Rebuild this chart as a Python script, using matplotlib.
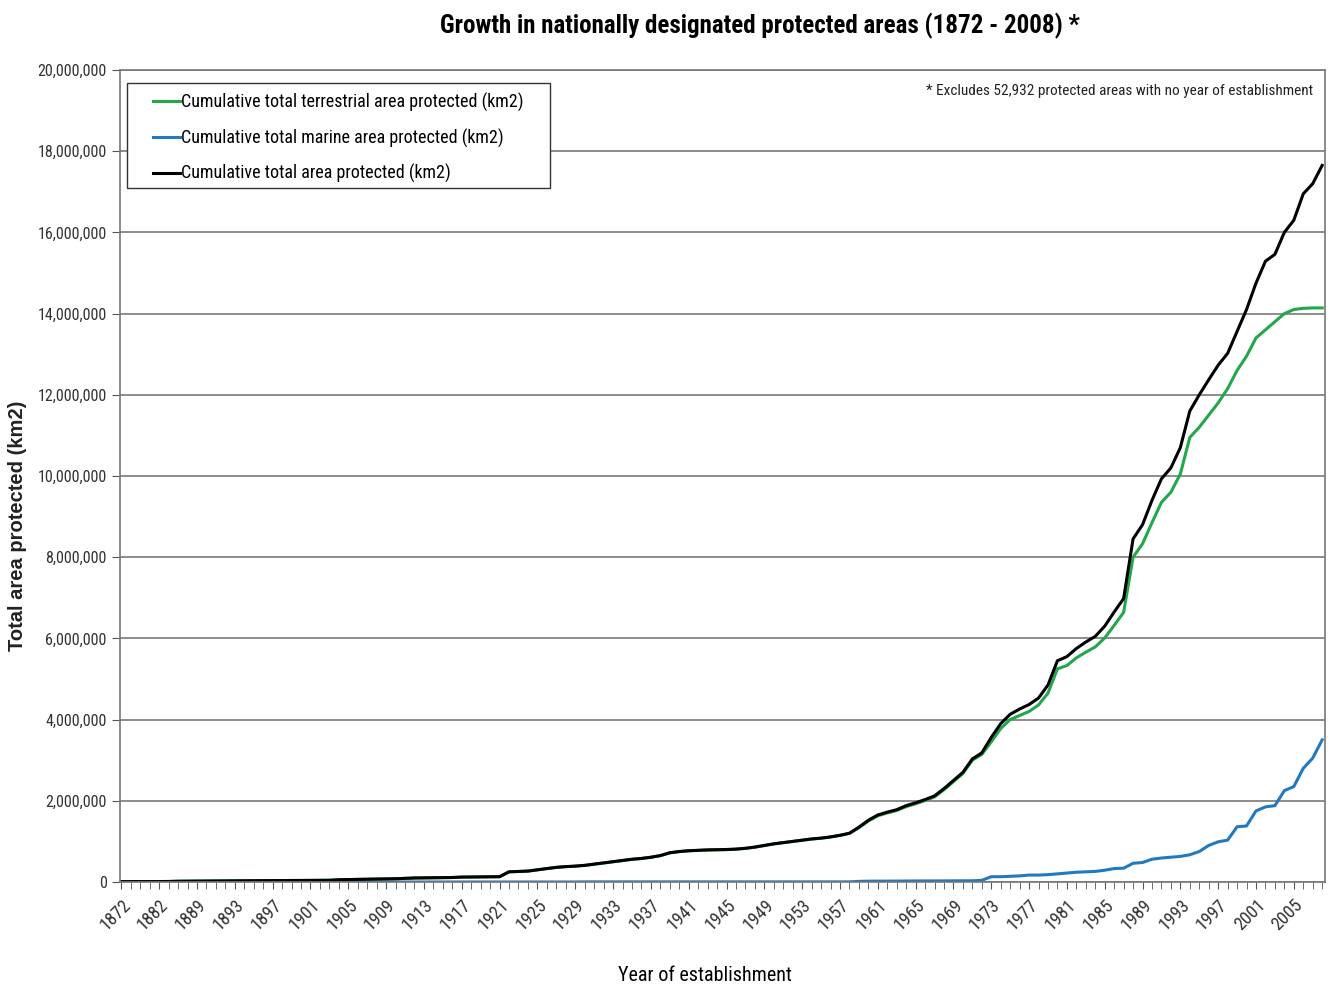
import matplotlib
matplotlib.use('Agg')
import matplotlib.pyplot as plt
from matplotlib import font_manager as fm
from matplotlib.patches import Rectangle
from matplotlib.ticker import FuncFormatter, FixedLocator

# look for a narrow face (the original uses Arial Narrow)
narrow = None
names = {(f.name, f.stretch) for f in fm.fontManager.ttflist}
for nm, st in [('Liberation Sans Narrow', None), ('Roboto Condensed', None),
               ('DejaVu Sans', 'condensed'), ('Open Sans Condensed', None)]:
    if any(n == nm and (st is None or s == st) for n, s in names):
        narrow = (nm, st)
        break
if narrow is None:
    narrow = ('Liberation Sans', None)
plt.rcParams['font.family'] = [narrow[0], 'DejaVu Sans']
if narrow[1]:
    plt.rcParams['font.stretch'] = narrow[1]

# categories (years that have at least one protected area established)
years = [1872, 1875, 1879, 1880, 1882, 1884, 1885, 1887] + list(range(1889, 2009))

# cumulative values, millions of km2
total = [
    0.009, 0.009, 0.010, 0.010, 0.011, 0.012, 0.018, 0.020,            # 1872-1887
    0.022, 0.025, 0.026, 0.027, 0.030, 0.030, 0.031, 0.032, 0.033, 0.034,  # 1889-1898
    0.035, 0.037, 0.038, 0.040, 0.042, 0.055, 0.060, 0.065, 0.068, 0.072,  # 1899-1908
    0.075, 0.080, 0.090, 0.098, 0.100, 0.104, 0.107, 0.110, 0.120, 0.122,  # 1909-1918
    0.124, 0.126, 0.130, 0.250, 0.258, 0.268, 0.300, 0.330, 0.360, 0.378,  # 1919-1928
    0.390, 0.410, 0.440, 0.470, 0.500, 0.530, 0.560, 0.580, 0.610, 0.650,  # 1929-1938
    0.720, 0.750, 0.770, 0.780, 0.790, 0.795, 0.800, 0.810, 0.830, 0.860,  # 1939-1948
    0.900, 0.940, 0.970, 1.000, 1.030, 1.060, 1.080, 1.110, 1.150, 1.200,  # 1949-1958
    1.350, 1.520, 1.650, 1.720, 1.780, 1.880, 1.950, 2.030, 2.120, 2.300,  # 1959-1968
    2.500, 2.700, 3.030, 3.180, 3.560, 3.900, 4.130, 4.260, 4.370, 4.530,  # 1969-1978
    4.850, 5.450, 5.550, 5.750, 5.910, 6.050, 6.300, 6.650, 6.980, 8.450,  # 1979-1988
    8.800, 9.400, 9.930, 10.200, 10.700, 11.600, 12.000, 12.370, 12.730, 13.020,  # 1989-1998
    13.560, 14.100, 14.750, 15.290, 15.460, 16.000, 16.300, 16.950, 17.200, 17.650,  # 1999-2008
]

terrestrial = [
    0.009, 0.009, 0.010, 0.010, 0.011, 0.012, 0.018, 0.020,
    0.022, 0.025, 0.026, 0.027, 0.030, 0.030, 0.031, 0.032, 0.033, 0.034,
    0.035, 0.037, 0.038, 0.040, 0.042, 0.055, 0.060, 0.065, 0.068, 0.072,
    0.075, 0.080, 0.090, 0.098, 0.100, 0.104, 0.107, 0.110, 0.120, 0.122,
    0.124, 0.126, 0.130, 0.250, 0.258, 0.268, 0.300, 0.330, 0.360, 0.378,
    0.390, 0.407, 0.437, 0.467, 0.497, 0.527, 0.557, 0.577, 0.607, 0.647,
    0.717, 0.747, 0.767, 0.777, 0.787, 0.792, 0.797, 0.807, 0.827, 0.857,
    0.897, 0.937, 0.967, 0.997, 1.027, 1.057, 1.077, 1.107, 1.147, 1.197,
    1.335, 1.500, 1.630, 1.700, 1.760, 1.855, 1.925, 2.005, 2.095, 2.270,
    2.470, 2.670, 3.000, 3.140, 3.450, 3.780, 4.000, 4.100, 4.200, 4.360,
    4.650, 5.250, 5.330, 5.520, 5.660, 5.790, 6.010, 6.320, 6.640, 8.000,
    8.330, 8.850, 9.350, 9.600, 10.050, 10.950, 11.200, 11.500, 11.800, 12.150,
    12.600, 12.950, 13.400, 13.600, 13.800, 14.000, 14.100, 14.130, 14.140, 14.140,
]

marine = [
    0.0, 0.0, 0.0, 0.0, 0.0, 0.0, 0.0, 0.0,
    0.0, 0.0, 0.0, 0.0, 0.0, 0.0, 0.0, 0.0, 0.0, 0.0,
    0.0, 0.0, 0.0, 0.0, 0.0, 0.0, 0.0, 0.0, 0.0, 0.0,
    0.0, 0.0, 0.0, 0.0, 0.0, 0.0, 0.0, 0.0, 0.0, 0.0,
    0.0, 0.0, 0.0, 0.0, 0.0, 0.0, 0.0, 0.0, 0.0, 0.0,
    0.0, 0.003, 0.003, 0.003, 0.003, 0.003, 0.003, 0.003, 0.003, 0.003,
    0.003, 0.003, 0.003, 0.003, 0.003, 0.003, 0.003, 0.003, 0.003, 0.003,
    0.003, 0.003, 0.003, 0.003, 0.003, 0.003, 0.003, 0.003, 0.003, 0.003,
    0.015, 0.020, 0.020, 0.022, 0.022, 0.024, 0.025, 0.025, 0.026, 0.027,
    0.028, 0.030, 0.030, 0.040, 0.130, 0.130, 0.140, 0.150, 0.170, 0.170,
    0.180, 0.200, 0.220, 0.240, 0.250, 0.260, 0.290, 0.330, 0.340, 0.460,
    0.480, 0.560, 0.590, 0.610, 0.630, 0.670, 0.750, 0.900, 0.990, 1.030,
    1.360, 1.380, 1.750, 1.850, 1.880, 2.250, 2.350, 2.800, 3.050, 3.500,
]

fig = plt.figure(figsize=(13.33, 9.86), dpi=100)
ax = fig.add_axes([0.09, 0.1055, 0.904, 0.8235])

x = list(range(len(years)))
ax.plot(x, terrestrial, color='#22a84a', lw=2.2, label='Cumulative total terrestrial area protected (km2)')
ax.plot(x, marine, color='#2379bf', lw=2.2, label='Cumulative total marine area protected (km2)')
ax.plot(x, total, color='black', lw=2.2, label='Cumulative total area protected (km2)')

ax.set_xlim(-0.15, len(years) - 0.7)
ax.set_ylim(0, 20)
ax.set_yticks([0, 2, 4, 6, 8, 10, 12, 14, 16, 18, 20])
ax.yaxis.set_major_formatter(FuncFormatter(lambda v, p: f"{v * 1e6:,.0f}"))
ax.yaxis.grid(True, color='#8c8c8c', lw=1.4)
ax.set_axisbelow(True)

ax.xaxis.set_major_locator(FixedLocator(x[::4]))
ax.set_xticklabels([str(y) for y in years[::4]], rotation=45, ha='right', va='top',
                   rotation_mode='anchor')
ax.xaxis.set_minor_locator(FixedLocator(x))
ax.tick_params(axis='x', which='both', length=5, color='#555555', labelsize=13,
               labelcolor='#333333', pad=5)
ax.tick_params(axis='y', length=6, color='#555555', labelsize=11.5, labelcolor='#333333')

for s in ax.spines.values():
    s.set_color('#777777')
    s.set_linewidth(1.2)

# legend box as in the original: wide left margin before the line samples
ax.add_patch(Rectangle((0.0058, 0.855), 0.351, 0.129, transform=ax.transAxes,
                       facecolor='white', edgecolor='#333333', lw=1.0, zorder=4))
leg = ax.legend(loc='upper left', bbox_to_anchor=(0.0274, 0.972), borderaxespad=0,
                borderpad=0, fontsize=13, frameon=False, handlelength=1.5,
                handletextpad=0.05, labelspacing=0.92)
leg.set_zorder(5)

ax.text(0.990, 0.974, '* Excludes 52,932 protected areas with no year of establishment',
        transform=ax.transAxes, ha='right', va='center', fontsize=11, color='#222222')

fig.text(0.570, 0.974, 'Growth in nationally designated protected areas (1872 - 2008) *',
         ha='center', va='center', fontsize=18, fontweight='bold')
fig.text(0.529, 0.011, 'Year of establishment', ha='center', va='center', fontsize=14.5)
fig.text(0.0128, 0.4665, 'Total area protected (km2)', rotation=90, ha='center', va='center',
         fontsize=14.5, fontweight='bold', family=['Liberation Sans', 'DejaVu Sans'],
         stretch='normal', color='#222222')

fig.savefig('out.png', dpi=100)
